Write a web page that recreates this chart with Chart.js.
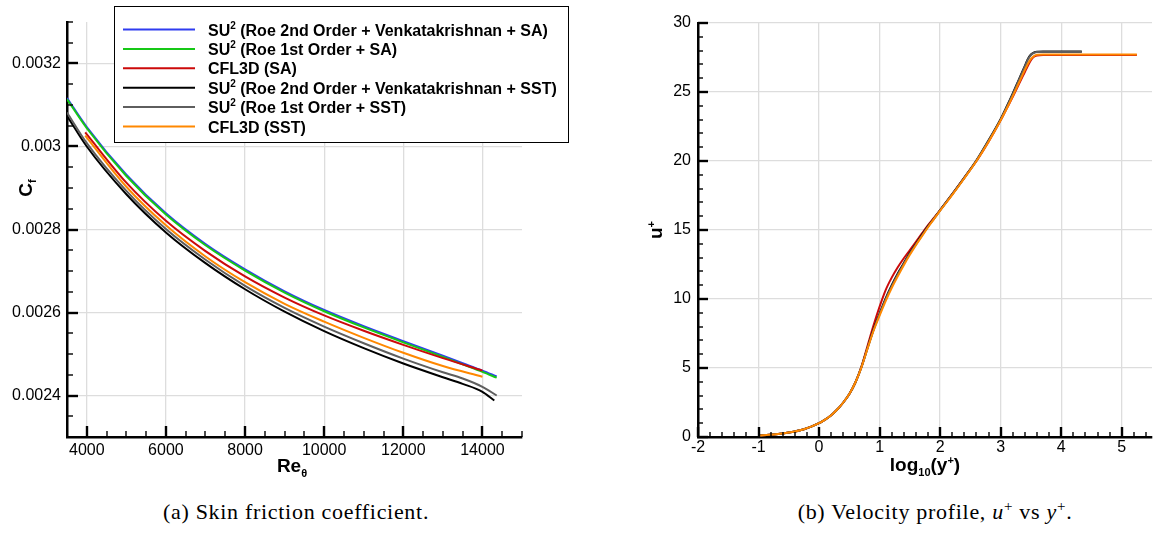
<!DOCTYPE html>
<html>
<head>
<meta charset="utf-8">
<script src="https://cdn.jsdelivr.net/npm/chart.js@4.4.1/dist/chart.umd.min.js"></script>
<style>
  body { margin: 0; background: #fff; }
  #wrap { position: relative; width: 1153px; height: 538px; overflow: hidden; }
  #cA { position: absolute; left: 0; top: 0; }
  #cB { position: absolute; left: 576px; top: 0; }
  .cap { position: absolute; top: 499px; font-family: "Liberation Serif", serif; font-size: 22px;
         letter-spacing: 0.7px; white-space: nowrap; transform: translateX(-50%); line-height: 26px; }
  .cap sup { font-size: 15px; line-height: 0; }
</style>
</head>
<body>
<div id="wrap">
  <canvas id="cA" width="576" height="480"></canvas>
  <canvas id="cB" width="577" height="480"></canvas>
  <div class="cap" style="left:296px">(a) Skin friction coefficient.</div>
  <div class="cap" style="left:935px">(b) Velocity profile, <i>u</i><sup>+</sup> vs <i>y</i><sup>+</sup>.</div>
</div>
<script>
// legenda (serve para os dois graficos)
const seriesNames = [
  'SU² (Roe 2nd Order + Venkatakrishnan + SA)',
  'SU² (Roe 1st Order + SA)',
  'CFL3D (SA)',
  'SU² (Roe 2nd Order + Venkatakrishnan + SST)',
  'SU² (Roe 1st Order + SST)',
  'CFL3D (SST)'
];
const seriesColors = ['#2f3cf0', '#16c816', '#cc0a0a', '#000000', '#5e5e5e', '#ff8800'];

// grafico (a): Cf x Re_theta
const reSU2 = [3500, 4000, 5000, 6000, 7000, 8000, 9000, 10000, 11000, 12000, 13000, 13500, 14000, 14360];
const cfSU2SA2 = [0.003117, 0.003047, 0.002932, 0.002839, 0.002765, 0.002704, 0.002651, 0.002606, 0.002567, 0.002531, 0.002496, 0.002478, 0.00246, 0.002446];
const cfSU2SA1 = [0.003114, 0.003044, 0.002929, 0.002836, 0.002762, 0.002701, 0.002648, 0.002603, 0.002564, 0.002528, 0.002493, 0.002475, 0.002457, 0.002443];
const cfSU2SST1 = [0.003082, 0.003008, 0.002893, 0.002801, 0.002727, 0.002664, 0.002611, 0.002566, 0.002526, 0.002489, 0.002456, 0.002441, 0.002421, 0.0024];
const reSU2SST2 = [3500, 4000, 5000, 6000, 7000, 8000, 9000, 10000, 11000, 12000, 13000, 13500, 14000, 14300];
const cfSU2SST2 = [0.003074, 0.003, 0.002885, 0.002793, 0.002719, 0.002656, 0.002602, 0.002555, 0.002514, 0.002477, 0.002444, 0.002428, 0.002409, 0.002388];
const reCFL3D = [3960, 5000, 6000, 7000, 8000, 9000, 10000, 11000, 12000, 13000, 14000];
const cfCFL3DSA = [0.003034, 0.002913, 0.002821, 0.002748, 0.002687, 0.002636, 0.002593, 0.002556, 0.002522, 0.00249, 0.00246];
const cfCFL3DSST = [0.003026, 0.002903, 0.00281, 0.002735, 0.002673, 0.002621, 0.002578, 0.002539, 0.002503, 0.002471, 0.002445];
const reTicks = [4000, 6000, 8000, 10000, 12000, 14000];
const cfTicks = [0.0024, 0.0026, 0.0028, 0.003, 0.0032];

// grafico (b): u+ x log10(y+)
const logCFL3D = [-1, -0.75, -0.5, -0.25, 0, 0.1, 0.2, 0.3, 0.4, 0.5, 0.6, 0.7, 0.8, 0.9, 1.0, 1.1, 1.2, 1.3, 1.4, 1.5, 1.6, 1.7, 1.8, 1.9, 2.0,
                  2.2, 2.4, 2.6, 2.8, 3.0, 3.1, 3.2, 3.3, 3.4, 3.45, 3.5, 3.55, 3.6, 3.7, 5.25];
const upCFL3DSA = [0.1, 0.18, 0.32, 0.56, 1.0, 1.26, 1.58, 1.99, 2.5, 3.12, 3.95, 5.1, 6.6, 8.1, 9.45, 10.65, 11.55, 12.3, 12.95, 13.55, 14.15, 14.75, 15.35, 15.9, 16.45,
                   17.6, 18.8, 20.0, 21.4, 22.95, 23.8, 24.65, 25.55, 26.45, 26.9, 27.3, 27.55, 27.64, 27.68, 27.68];
const upCFL3DSST = [0.1, 0.18, 0.32, 0.56, 1.0, 1.26, 1.58, 1.99, 2.5, 3.12, 3.95, 5.05, 6.4, 7.7, 8.8, 9.85, 10.8, 11.65, 12.45, 13.2, 13.9, 14.55, 15.2, 15.8, 16.4,
                    17.55, 18.75, 20.0, 21.4, 22.95, 23.8, 24.7, 25.65, 26.6, 27.05, 27.4, 27.6, 27.7, 27.72, 27.72];
const logSU2 = [-1, -0.75, -0.5, -0.25, 0, 0.1, 0.2, 0.3, 0.4, 0.5, 0.6, 0.7, 0.8, 0.9, 1.0, 1.1, 1.2, 1.3, 1.4, 1.5, 1.6, 1.7, 1.8, 1.9, 2.0,
                2.2, 2.4, 2.6, 2.8, 3.0, 3.1, 3.2, 3.3, 3.4, 3.45, 3.5, 3.55, 3.6, 3.7, 4.34];
const upSU2SST2 = [0.1, 0.18, 0.32, 0.56, 1.0, 1.26, 1.58, 1.99, 2.5, 3.12, 3.95, 5.07, 6.45, 7.8, 8.95, 10.05, 11.0, 11.85, 12.6, 13.35, 14.0, 14.65, 15.28, 15.85, 16.45,
                   17.6, 18.8, 20.05, 21.5, 23.05, 23.95, 24.9, 25.9, 26.9, 27.4, 27.72, 27.86, 27.92, 27.93, 27.93];
const upSU2SST1 = [0.1, 0.18, 0.32, 0.56, 1.0, 1.26, 1.58, 1.99, 2.5, 3.12, 3.95, 5.06, 6.42, 7.75, 8.9, 9.98, 10.93, 11.78, 12.55, 13.3, 13.96, 14.6, 15.24, 15.82, 16.42,
                   17.58, 18.78, 20.02, 21.46, 23.0, 23.9, 24.85, 25.85, 26.85, 27.35, 27.68, 27.83, 27.89, 27.9, 27.9];
const logTicks = [-2, -1, 0, 1, 2, 3, 4, 5];
const upTicks = [0, 5, 10, 15, 20, 25, 30];

const pts = (xs, ys) => xs.map((x, i) => ({x: x, y: ys[i]}));
const fonte = '"Liberation Sans", Arial, sans-serif';

function serie(i, xs, ys, ordem) {
  return {
    label: seriesNames[i], data: pts(xs, ys), borderColor: seriesColors[i],
    backgroundColor: seriesColors[i], borderWidth: 2, pointRadius: 0,
    cubicInterpolationMode: 'monotone', order: ordem
  };
}

// texto com subscrito/sobrescrito: partes = [texto, tamanho, deslocamento]
function richText(ctx, parts, x, y, ang, align) {
  ctx.save();
  ctx.translate(x, y);
  ctx.rotate(ang || 0);
  ctx.textBaseline = 'alphabetic';
  ctx.fillStyle = '#000';
  let w = 0;
  parts.forEach(p => { ctx.font = 'bold ' + p[1] + 'px ' + fonte; w += ctx.measureText(p[0]).width; });
  let cx = align === 'left' ? 0 : -w / 2;
  parts.forEach(p => {
    ctx.font = 'bold ' + p[1] + 'px ' + fonte;
    ctx.fillText(p[0], cx, p[2]);
    cx += ctx.measureText(p[0]).width;
  });
  ctx.restore();
}

// marcas dos eixos para dentro (maiores e menores)
function ticksInside(xMajor, xStep, yMajor, yStep, lenMaj, lenMin) {
  return {
    id: 'ticksInside',
    afterDraw(chart) {
      const ctx = chart.ctx, a = chart.chartArea, sx = chart.scales.x, sy = chart.scales.y;
      const ehMaior = (v, lista, st) => lista.some(m => Math.abs(m - v) < st / 10);
      ctx.save();
      ctx.strokeStyle = '#000';
      for (let k = 0; ; k++) {
        const v = sx.min + k * xStep;
        if (v > sx.max + xStep / 10) break;
        const maj = ehMaior(v, xMajor, xStep);
        const px = Math.round(sx.getPixelForValue(v));
        ctx.lineWidth = maj ? 2.4 : 1.4;
        ctx.beginPath(); ctx.moveTo(px, a.bottom); ctx.lineTo(px, a.bottom - (maj ? lenMaj : lenMin)); ctx.stroke();
      }
      for (let k = 0; ; k++) {
        const v = sy.min + k * yStep;
        if (v > sy.max + yStep / 10) break;
        const maj = ehMaior(v, yMajor, yStep);
        const py = Math.round(sy.getPixelForValue(v));
        ctx.lineWidth = maj ? 2.4 : 1.4;
        ctx.beginPath(); ctx.moveTo(a.left, py); ctx.lineTo(a.left + (maj ? lenMaj : lenMin), py); ctx.stroke();
      }
      ctx.restore();
    }
  };
}

// caixa de legenda desenhada por cima do grafico (a)
const legendBox = {
  id: 'legendBox',
  afterDraw(chart) {
    const ctx = chart.ctx;
    ctx.save();
    ctx.fillStyle = '#fff';
    ctx.fillRect(114, 6, 454, 136);
    ctx.strokeStyle = '#000'; ctx.lineWidth = 1;
    ctx.strokeRect(114.5, 6.5, 454, 136);
    seriesNames.forEach((nome, i) => {
      const yy = 29.5 + i * 19.4;
      ctx.strokeStyle = seriesColors[i]; ctx.lineWidth = 2;
      ctx.beginPath(); ctx.moveTo(123, yy); ctx.lineTo(195, yy); ctx.stroke();
      const pedacos = nome.split('²');
      const partes = pedacos.length > 1
        ? [[pedacos[0], 16, 0], ['2', 10, -7], [pedacos[1], 16, 0]]
        : [[nome, 16, 0]];
      richText(ctx, partes, 208, yy + 6, 0, 'left');
    });
    ctx.restore();
  }
};

const titulosA = {
  id: 'titulosA',
  afterDraw(chart) {
    richText(chart.ctx, [['C', 19, 0], ['f', 11, 4]], 32, 188, -Math.PI / 2);
    richText(chart.ctx, [['Re', 19, 0], ['θ', 11, 5]], 292, 472, 0);
  }
};
const titulosB = {
  id: 'titulosB',
  afterDraw(chart) {
    richText(chart.ctx, [['u', 19, 0], ['+', 11, -7]], 86, 230, -Math.PI / 2);
    richText(chart.ctx, [['log', 19, 0], ['10', 11, 5], ['(y', 19, 0], ['+', 11, -7], [')', 19, 0]], 349, 471, 0);
  }
};

function eixo(min, max, ticks, extra) {
  return Object.assign({
    type: 'linear', min: min, max: max,
    afterBuildTicks: s => { s.ticks = ticks.map(v => ({value: v})); },
    grid: {color: '#dddddd', lineWidth: 1.3, drawTicks: false},
    border: {color: '#000', width: 2.5},
    ticks: {color: '#000', font: {family: fonte, size: 16}, maxRotation: 0, autoSkip: false,
            callback: v => String(v)}
  }, extra);
}

const graficoA = new Chart(document.getElementById('cA'), {
  type: 'line',
  data: {
    datasets: [
      serie(0, reSU2, cfSU2SA2, 5),
      serie(1, reSU2, cfSU2SA1, 4),
      serie(2, reCFL3D, cfCFL3DSA, 3),
      serie(3, reSU2SST2, cfSU2SST2, 2),
      serie(4, reSU2, cfSU2SST1, 1),
      serie(5, reCFL3D, cfCFL3DSST, 0)
    ]
  },
  options: {
    responsive: false, animation: false,
    layout: {padding: {top: 22, right: 54, left: 0, bottom: 0}},
    plugins: {legend: {display: false}, tooltip: {enabled: false}},
    scales: {
      x: eixo(3500, 15000, reTicks, {afterFit: s => { s.height = 43; }}),
      y: eixo(0.0023, 0.0033, cfTicks, {afterFit: s => { s.width = 67; }})
    }
  },
  plugins: [ticksInside(reTicks, 500, cfTicks, 0.00005, 11, 6), legendBox, titulosA]
});
graficoA.options.scales.x.ticks.padding = 4;
graficoA.options.scales.y.ticks.padding = 6;
graficoA.update();

const graficoB = new Chart(document.getElementById('cB'), {
  type: 'line',
  data: {
    datasets: [
      serie(2, logCFL3D, upCFL3DSA, 3),
      serie(3, logSU2, upSU2SST2, 2),
      serie(4, logSU2, upSU2SST1, 1),
      serie(5, logCFL3D, upCFL3DSST, 0)
    ]
  },
  options: {
    responsive: false, animation: false,
    layout: {padding: {top: 23, right: 0, left: 0, bottom: 0}},
    plugins: {legend: {display: false}, tooltip: {enabled: false}},
    scales: {
      x: eixo(-2, 5.5, logTicks, {afterFit: s => { s.height = 43; }}),
      y: eixo(0, 30, upTicks, {afterFit: s => { s.width = 122; }})
    }
  },
  plugins: [ticksInside(logTicks, 0.2, upTicks, 1, 10, 5), titulosB]
});
graficoB.options.scales.x.ticks.padding = 1;
graficoB.options.scales.y.ticks.padding = 7;
graficoB.update();
</script>
</body>
</html>
